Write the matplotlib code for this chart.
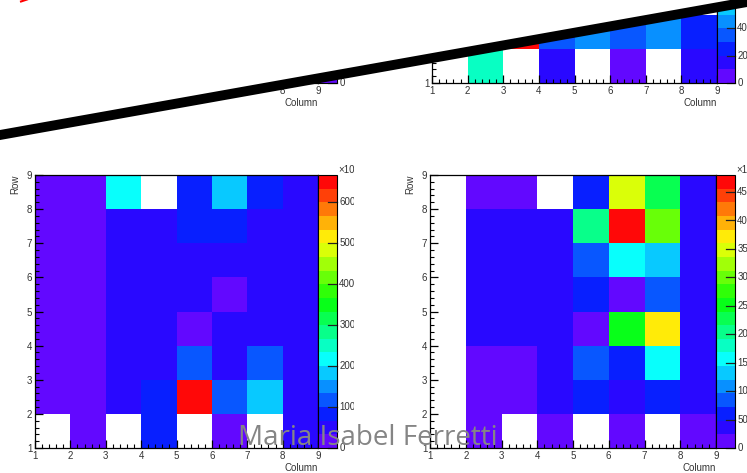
import numpy as np
import matplotlib
matplotlib.use('Agg')
import matplotlib.pyplot as plt
from matplotlib.colors import ListedColormap, BoundaryNorm, hsv_to_rgb
from matplotlib.cm import ScalarMappable
from matplotlib.patches import Polygon
from matplotlib.lines import Line2D
from matplotlib.ticker import MultipleLocator, NullLocator
from matplotlib.transforms import Bbox, TransformedBbox

plt.rcParams['font.family'] = ['Liberation Sans', 'DejaVu Sans']

W, H = 747, 473

# bin edges
col_edges = np.arange(1, 10)
row_edges = np.arange(1, 10)

# bin contents, first list = row 1-2 (bottom), 0 = empty bin
counts_bl = [
    [0, 17, 0, 83, 0, 17, 0, 50],
    [17, 17, 50, 83, 650, 117, 183, 50],
    [17, 17, 50, 50, 117, 50, 117, 50],
    [17, 17, 50, 50, 17, 50, 50, 50],
    [17, 17, 50, 50, 50, 17, 50, 50],
    [17, 17, 50, 50, 50, 50, 50, 50],
    [17, 17, 50, 50, 83, 83, 50, 50],
    [17, 17, 217, 0, 83, 183, 83, 50],
]
counts_br = [
    [0, 12, 0, 12, 0, 12, 0, 12],
    [0, 12, 12, 36, 60, 36, 60, 36],
    [0, 12, 12, 36, 84, 60, 156, 36],
    [0, 36, 36, 36, 12, 252, 372, 36],
    [0, 36, 36, 36, 60, 12, 84, 36],
    [0, 36, 36, 36, 84, 156, 132, 36],
    [0, 36, 36, 36, 204, 468, 300, 36],
    [0, 12, 12, 0, 60, 348, 228, 36],
]
# top right panel: only the two lowest rows are visible
counts_tr = [
    [0, 750, 0, 150, 0, 50, 0, 150],
    [np.nan, np.nan, 1950, 350, 450, 350, 450, 250],
]

vmax_bl, vmax_br, vmax_tr, vmax_tl = 667, 480, 2000, 667
ticks_bl = [0, 100, 200, 300, 400, 500, 600]
ticks_br = [0, 50, 100, 150, 200, 250, 300, 350, 400, 450]
ticks_tr = [0, 200, 400, 600, 800, 1000, 1200, 1400, 1600, 1800]
ticks_tl = [0, 100, 200, 300, 400, 500, 600]

# ROOT-like rainbow palette, 20 contour levels
ncont = 20
pal = [hsv_to_rgb((262 * (1 - k / (ncont - 1)) / 360, 0.97, 1.0)) for k in range(ncont)]
cmap = ListedColormap(pal)

fig = plt.figure(figsize=(W / 100, H / 100), dpi=100)
fig.patch.set_facecolor('white')


def px_axes(x0, y0, x1, y1):
    return fig.add_axes([x0 / W, 1 - y1 / H, (x1 - x0) / W, (y1 - y0) / H])


def panel(x0, x1, ytop, ybot, cbx1, counts, vmax, cticks, clip_x):
    ax = px_axes(x0, ytop, x1, ybot)
    cax = px_axes(x1, ytop, cbx1, ybot)
    levels = np.linspace(0, vmax, ncont + 1)
    norm = BoundaryNorm(levels, ncont)
    if counts is not None:
        data = np.array(counts, dtype=float)
        data[data == 0] = np.nan
        data = np.ma.masked_invalid(data)
        nr = data.shape[0]
        ax.pcolormesh(col_edges, row_edges[:nr + 1], data, cmap=cmap, norm=norm)
    ax.set_xlim(1, 9)
    ax.set_ylim(1, 9)
    for a in (ax.xaxis, ax.yaxis):
        a.set_major_locator(MultipleLocator(1))
        a.set_minor_locator(MultipleLocator(0.2))
    ax.tick_params(which='major', direction='in', length=6, width=0.9,
                   labelsize=7, pad=2, labelcolor='#333333', top=False, right=False)
    ax.tick_params(which='minor', direction='in', length=3, width=0.8,
                   top=False, right=False)
    for s in ax.spines.values():
        s.set_linewidth(0.9)

    sm = ScalarMappable(norm=norm, cmap=cmap)
    cb = fig.colorbar(sm, cax=cax, spacing='proportional')
    cb.outline.set_linewidth(0.8)
    cax.yaxis.set_major_locator(NullLocator())
    cax.yaxis.set_minor_locator(NullLocator())
    clipbox = TransformedBbox(Bbox.from_extents(0, 0, clip_x / W, 1), fig.transFigure)
    tr = cax.get_yaxis_transform()
    for v in cticks:
        cax.add_line(Line2D([0.55, 1.0], [v, v], color='#222222', lw=0.9,
                            transform=tr, clip_on=False))
        t = cax.text(1.12, v, str(v), transform=tr, fontsize=7, color='#333333',
                     ha='left', va='center', clip_on=True)
        t.set_clip_box(clipbox)
    t = cax.text(1.05, 1.0, '×10³', transform=cax.transAxes, fontsize=7,
                 color='#333333', ha='left', va='bottom', clip_on=True)
    t.set_clip_box(clipbox)

    fig.text((x0 - 20) / W, 1 - ytop / H, 'Row', rotation=90, ha='center',
             va='top', fontsize=7, color='#333333')
    fig.text(x1 / W, 1 - (ybot + 20) / H, 'Column', ha='right', va='center',
             fontsize=7, color='#333333')
    return ax


panel(35, 318, -190, 83, 337, None, vmax_tl, ticks_tl, 354)
panel(432, 717, -190, 83, 735, counts_tr, vmax_tr, ticks_tr, W)
panel(35, 318, 175, 448, 337, counts_bl, vmax_bl, ticks_bl, 354)
panel(430, 716, 175, 448, 735, counts_br, vmax_br, ticks_br, W)

# white cover above the black diagonal stroke
y_left, y_right = 135, 2
cover = Polygon([(-0.02, 1.02), (1.02, 1.02), (1.02, 1 - y_right / H),
                 (-0.02, 1 - y_left / H)], closed=True, facecolor='white',
                edgecolor='none', transform=fig.transFigure, zorder=10)
fig.add_artist(cover)
slope = (y_right - y_left) / W
fig.add_artist(Line2D([-0.02, 1.02],
                      [1 - (y_left - slope * 0.02 * W) / H, 1 - (y_right + slope * 0.02 * W) / H],
                      color='black', lw=7.1, solid_capstyle='butt',
                      transform=fig.transFigure, zorder=11))
fig.add_artist(Line2D([21 / W, 27 / W], [1 - 1.5 / H, 1 + 0.5 / H], color='red',
                      lw=1.5, transform=fig.transFigure, zorder=12))

fig.text(238 / W, 1 - 445 / H, 'Maria Isabel Ferretti', fontsize=20,
         family='Open Sans', color='#858585', ha='left', va='baseline', zorder=20)

fig.savefig('out.png', dpi=100)
